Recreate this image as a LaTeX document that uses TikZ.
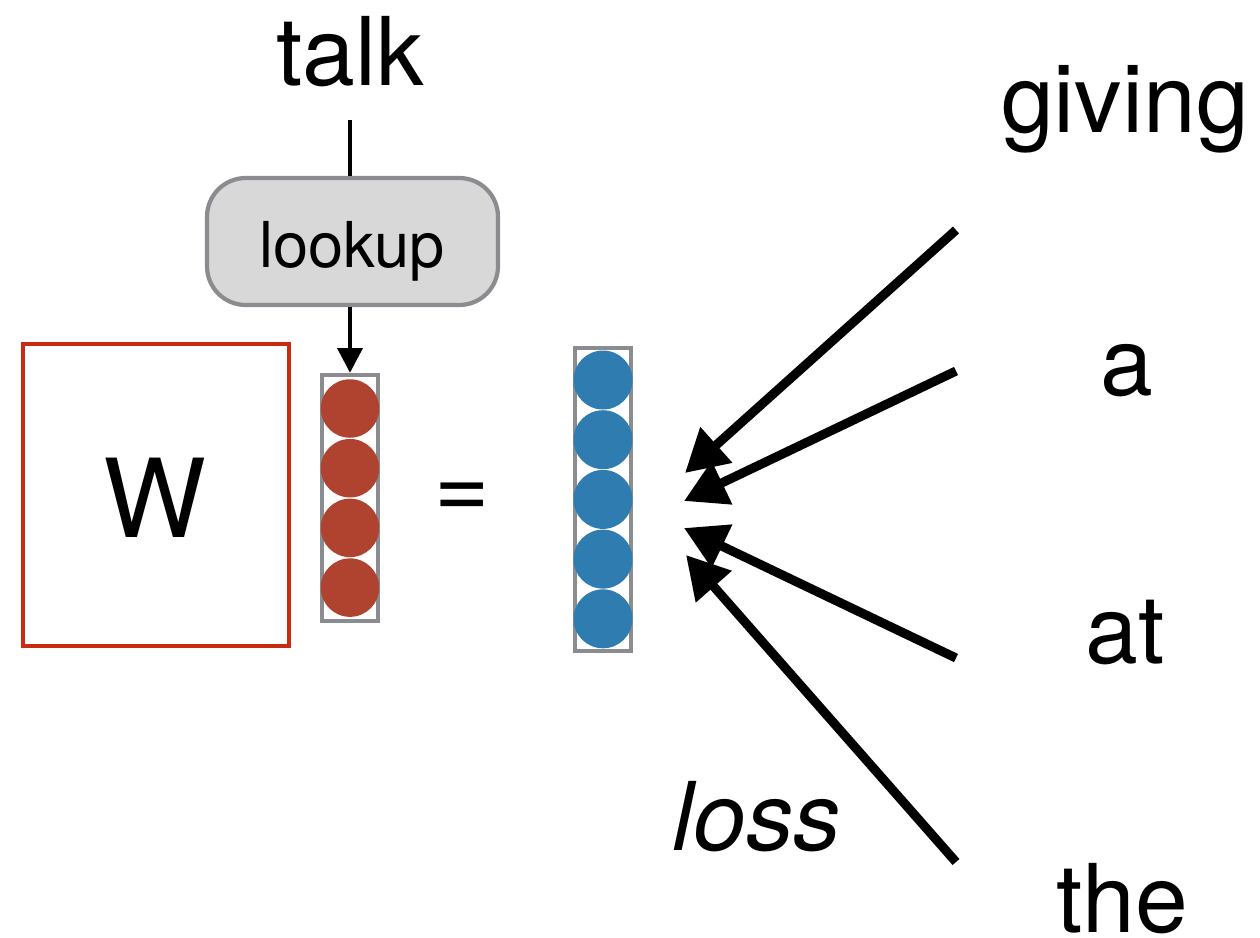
\documentclass[tikz,border=0pt]{standalone}
\usepackage{fontspec}
\setmainfont{TeX Gyre Heros}
\usetikzlibrary{arrows.meta}
\definecolor{wred}{RGB}{200,42,18}
\definecolor{vred}{RGB}{176,66,48}
\definecolor{vblue}{RGB}{46,124,176}
\definecolor{vgray}{RGB}{138,140,143}
\definecolor{lgray}{RGB}{216,216,216}
\tikzset{
  word/.style={font=\fontsize{54}{60}\selectfont, anchor=base, inner sep=0pt},
  bigarrow/.style={line width=5.2pt, -{Triangle[length=24pt,width=26pt]}},
  thinline/.style={line width=2.4pt},
  vecbox/.style={draw=vgray, line width=2.5pt, minimum width=1.12cm, inner sep=0pt},
  reddot/.style={circle, fill=vred, minimum size=1.17cm, inner sep=0pt},
  bluedot/.style={circle, fill=vblue, minimum size=1.18cm, inner sep=0pt},
}
\begin{document}
\begin{tikzpicture}[x=0.02cm, y=-0.02cm]
\useasboundingbox (0,0) rectangle (1260,937);
% talk and lookup
\node[word] (talk) at (350,85) {talk};
\coordinate (talkfoot) at (350,120);
\node[draw=vgray, fill=lgray, line width=2.4pt, rounded corners=22pt,
      minimum width=5.82cm, minimum height=2.54cm, inner sep=0pt] (lookup) at (352.5,241.5) {};
\node[font=\fontsize{36}{40}\selectfont, anchor=base, inner sep=0pt] (lookuplabel) at (352,267) {lookup};
\draw[thinline] (talkfoot) -- (lookup.north -| talkfoot);
% W box
\node[draw=wred, line width=2.5pt, minimum width=5.32cm, minimum height=6.04cm, inner sep=0pt] (W) at (156,495) {};
\node[font=\fontsize{62}{66}\selectfont, anchor=base, inner sep=0pt] (Wlabel) at (155,537) {W};
% red vector
\node[vecbox, minimum height=4.92cm] (rvec) at (350,498) {};
\foreach \i in {0,...,3}{
  \node[reddot] (r\i) at (350,408.5+59.7*\i) {};
}
\draw[thinline, -{Triangle[length=14pt,width=14pt]}] (lookup.south -| rvec) -- (rvec.north);
% equals
\node[word] (eq) at (462,518) {=};
% blue vector
\node[vecbox, minimum height=6.06cm] (bvec) at (603,499.5) {};
\foreach \i in {0,...,4}{
  \node[bluedot] (b\i) at (603,380+59.7*\i) {};
}
% words
\node[word] (giving) at (1125,132) {giving};
\node[word] (a) at (1127,395) {a};
\node[word] (at) at (1125,663) {at};
\node[word] (the) at (1122,932) {the};
\node[word, font=\fontsize{54}{60}\selectfont\itshape] (loss) at (757,850) {loss};
% arrows
\coordinate (s1) at (956,230);
\coordinate (s2) at (956,371);
\coordinate (s3) at (956,658);
\coordinate (s4) at (956,862);
\coordinate (t1) at (685,473);
\coordinate (t2) at (684,501);
\coordinate (t3) at (684,528);
\coordinate (t4) at (686,555);
\draw[bigarrow] (s1) -- (t1);
\draw[bigarrow] (s2) -- (t2);
\draw[bigarrow] (s3) -- (t3);
\draw[bigarrow] (s4) -- (t4);
\end{tikzpicture}
\end{document}
